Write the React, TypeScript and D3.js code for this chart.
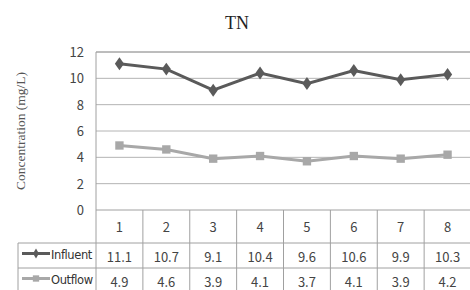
import React, { useRef, useEffect } from "react";
import * as d3 from "d3";

const title = "TN";
const yLabel = "Concentration (mg/L)";
const categories = ["1", "2", "3", "4", "5", "6", "7", "8"];
const influent = [11.1, 10.7, 9.1, 10.4, 9.6, 10.6, 9.9, 10.3];
const outflow = [4.9, 4.6, 3.9, 4.1, 3.7, 4.1, 3.9, 4.2];
const yTicks = [0, 2, 4, 6, 8, 10, 12];

const series = [
    { name: "Influent", values: influent, color: "#5a5a5a", marker: "diamond" },
    { name: "Outflow", values: outflow, color: "#a8a8a8", marker: "square" },
];

const App = () => {
    const svgRef = useRef<SVGSVGElement>(null);

    useEffect(() => {
        const width = 470;
        const height = 290;
        const margin = { top: 52, left: 96, right: 471, bottom: 210 };
        const legendLeft = 18;
        const rowTops = [210, 243, 268, 293];
        const numFont = "'Noto Sans CJK JP', 'DejaVu Sans', sans-serif";

        const svg = d3.select(svgRef.current);
        svg.selectAll("*").remove();
        svg.attr("width", width).attr("height", height);

        const x = d3.scaleBand().domain(categories).range([margin.left, margin.right]);
        const y = d3.scaleLinear().domain([0, 12]).range([margin.bottom, margin.top]);

        svg.append("rect").attr("width", width).attr("height", height).attr("fill", "#fff");

        // title
        svg.append("text")
            .attr("x", 237).attr("y", 29)
            .attr("text-anchor", "middle")
            .style("font-family", "'Liberation Serif', serif")
            .style("font-size", "18px")
            .attr("fill", "#222")
            .text(title);

        // y label
        svg.append("text")
            .attr("transform", `translate(25, 131) rotate(-90)`)
            .attr("text-anchor", "middle")
            .style("font-family", "'Liberation Serif', serif")
            .style("font-size", "13.5px")
            .attr("fill", "#555")
            .text(yLabel);

        // grid
        svg.append("g").selectAll("line")
            .data(yTicks.filter((d) => d > 0))
            .enter().append("line")
            .attr("x1", margin.left).attr("x2", margin.right)
            .attr("y1", (d) => y(d)).attr("y2", (d) => y(d))
            .attr("stroke", "#b4b4b4").attr("stroke-width", 1);

        svg.append("g").selectAll("text")
            .data(yTicks)
            .enter().append("text")
            .attr("x", 84).attr("y", (d) => y(d) + 5)
            .attr("text-anchor", "end")
            .style("font-family", numFont)
            .style("font-size", "13px")
            .attr("fill", "#444")
            .text((d) => d);

        // table lines
        const tbl = svg.append("g").attr("stroke", "#a0a0a0").attr("stroke-width", 1).attr("fill", "none");
        tbl.append("line").attr("x1", margin.left).attr("x2", margin.left).attr("y1", margin.top).attr("y2", height);
        tbl.append("line").attr("x1", margin.left).attr("x2", margin.right).attr("y1", margin.top).attr("y2", margin.top);
        tbl.append("line").attr("x1", margin.left).attr("x2", margin.right).attr("y1", rowTops[0]).attr("y2", rowTops[0]);
        tbl.append("line").attr("x1", legendLeft).attr("x2", margin.right).attr("y1", rowTops[1]).attr("y2", rowTops[1]);
        tbl.append("line").attr("x1", legendLeft).attr("x2", margin.right).attr("y1", rowTops[2]).attr("y2", rowTops[2]);
        tbl.append("line").attr("x1", legendLeft).attr("x2", legendLeft).attr("y1", rowTops[1]).attr("y2", height);
        tbl.selectAll(".col")
            .data(categories.slice(1))
            .enter().append("line")
            .attr("x1", (d) => x(d)!).attr("x2", (d) => x(d)!)
            .attr("y1", rowTops[0]).attr("y2", height);

        // category labels
        svg.append("g").selectAll("text")
            .data(categories)
            .enter().append("text")
            .attr("x", (d) => x(d)! + x.bandwidth() / 2)
            .attr("y", (rowTops[0] + rowTops[1]) / 2 + 5)
            .attr("text-anchor", "middle")
            .style("font-family", numFont)
            .style("font-size", "13px")
            .attr("fill", "#444")
            .text((d) => d);

        const line = d3.line<number>()
            .x((d, i) => x(categories[i])! + x.bandwidth() / 2)
            .y((d) => y(d));

        series.forEach((s, si) => {
            svg.append("path")
                .datum(s.values)
                .attr("d", line)
                .attr("fill", "none")
                .attr("stroke", s.color)
                .attr("stroke-width", 3);

            const sym = d3.symbol()
                .type(s.marker === "diamond" ? d3.symbolDiamond : d3.symbolSquare)
                .size(s.marker === "diamond" ? 60 : 70);

            svg.append("g").selectAll("path")
                .data(s.values)
                .enter().append("path")
                .attr("d", sym)
                .attr("transform", (d, i) => {
                    const px = x(categories[i])! + x.bandwidth() / 2;
                    return s.marker === "diamond"
                        ? `translate(${px}, ${y(d)}) scale(1.1, 0.9)`
                        : `translate(${px}, ${y(d)})`;
                })
                .attr("fill", s.color);

            // table row
            const rowTop = rowTops[si + 1];
            const rowMid = (rowTop + rowTops[si + 2]) / 2;
            const lg = svg.append("g");
            lg.append("line")
                .attr("x1", 22).attr("x2", 50)
                .attr("y1", rowMid - 2).attr("y2", rowMid - 2)
                .attr("stroke", s.color).attr("stroke-width", 3);
            lg.append("path")
                .attr("d", d3.symbol().type(s.marker === "diamond" ? d3.symbolDiamond : d3.symbolSquare).size(s.marker === "diamond" ? 30 : 40))
                .attr("transform", `translate(36, ${rowMid - 2})`)
                .attr("fill", s.color);
            lg.append("text")
                .attr("x", 51).attr("y", rowMid + 3)
                .style("font-family", "'DejaVu Sans', sans-serif")
                .style("font-size", "11.5px")
                .style("letter-spacing", "-0.4px")
                .attr("fill", "#333")
                .text(s.name);

            svg.append("g").selectAll("text")
                .data(s.values)
                .enter().append("text")
                .attr("x", (d, i) => x(categories[i])! + x.bandwidth() / 2)
                .attr("y", rowMid + 6)
                .attr("text-anchor", "middle")
                .style("font-family", numFont)
                .style("font-size", "13px")
                .attr("fill", "#444")
                .text((d) => d.toFixed(1));
        });
    }, []);

    return (
        <div style={{ position: "absolute", left: 0, top: 0 }}>
            <svg ref={svgRef} style={{ display: "block" }}></svg>
        </div>
    );
};

export default App;
